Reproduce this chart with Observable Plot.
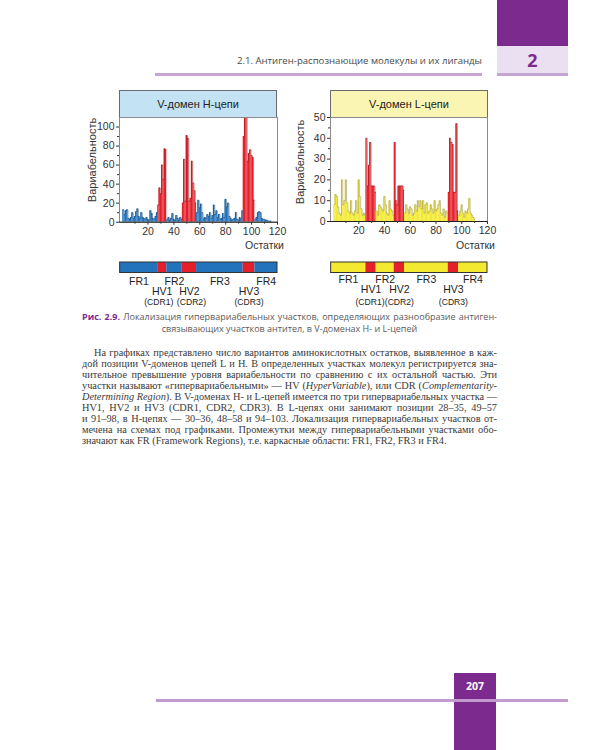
<!DOCTYPE html>
<html><head><meta charset="utf-8">
<script src="https://cdn.jsdelivr.net/npm/d3@7"></script>
<script src="https://cdn.jsdelivr.net/npm/@observablehq/plot@0.6"></script>
<style>
body{margin:0;background:#fff;}
#page{position:relative;width:600px;height:750px;overflow:hidden;font-family:"Liberation Sans",Arial,sans-serif;color:#333;}
.abs{position:absolute;}
.hdrbox{position:absolute;box-sizing:border-box;border:1px solid #6a6a6a;border-bottom:none;font-size:11px;color:#222;display:flex;align-items:center;justify-content:center;}
.ylab{position:absolute;font-size:11px;color:#333;transform:translate(-50%,-50%) rotate(-90deg);white-space:nowrap;}
.xlab{position:absolute;font-size:10.5px;color:#333;white-space:nowrap;transform:translate(-100%,-50%);}
.body{position:absolute;left:82px;width:415px;font-family:"Liberation Serif","Times New Roman",serif;font-size:10.3px;color:#3a3a3a;line-height:11px;}
.body div{text-align:justify;text-align-last:justify;white-space:nowrap;height:11px;}
.body div.last{text-align-last:left;}
.cap{position:absolute;left:82px;width:415px;font-family:"Open Sans",sans-serif;font-size:9px;color:#5a5a5a;line-height:11.5px;}
svg{overflow:visible;}
</style></head><body><div id="page"></div>
<script>
// ---- data ----
const hValues = [13,8,12,13,4,3,5,10,4,6,11,14,6,4,10,5,4,3,5,3,2,12,9,4,3,6,10,
  18,36,30,60,45,77,76,
  3,5,2,4,9,3,2,7,4,2,5,3,
  20,66,22,91,88,22,25,64,41,33,20,
  10,23,15,19,10,3,5,4,8,6,10,4,7,18,8,12,5,8,3,4,9,5,24,16,20,6,4,2,3,4,10,3,2,5,3,12,
  90,110,110,64,72,76,70,68,23,
  3,5,10,11,10,4,3,3,2,2,1,1,1];
const lValues = [8,13,12,7,4,3,20,8,10,20,9,5,4,10,4,3,5,10,4,20,12,6,3,4,3,
  40,17,27,38,17,17,17,14,
  5,3,8,7,6,5,12,8,4,3,10,6,5,3,
  38,10,8,17,17,17,17,15,
  4,8,6,4,7,6,3,4,8,5,10,7,10,6,10,4,8,9,4,5,8,6,4,10,5,6,8,10,4,3,6,2,5,4,
  14,40,38,37,14,14,47,5,
  3,5,8,4,2,5,4,6,11,4,3,2,1];
const hRegions = [
  {name:"FR1", start:-1, end:27},
  {name:"HV1", start:28, end:34, cdr:"(CDR1)"},
  {name:"FR2", start:35, end:46},
  {name:"HV2", start:47, end:57, cdr:"(CDR2)"},
  {name:"FR3", start:58, end:93},
  {name:"HV3", start:94, end:102, cdr:"(CDR3)"},
  {name:"FR4", start:103, end:119.5}
];
const lRegions = [
  {name:"FR1", start:-1, end:25},
  {name:"HV1", start:26, end:33, cdr:"(CDR1)"},
  {name:"FR2", start:34, end:47},
  {name:"HV2", start:48, end:55, cdr:"(CDR2)"},
  {name:"FR3", start:56, end:89},
  {name:"HV3", start:90, end:97, cdr:"(CDR3)"},
  {name:"FR4", start:98, end:119.5}
];
const xTicks = [20,40,60,80,100,120];
const xMinor = [10,30,50,70,90,110];
const yTicksH = [0,20,40,60,80,100];
const yMinorH = [10,30,50,70,90];
const yTicksL = [0,10,20,30,40,50];
const yMinorL = [5,15,25,35,45];
const titles = ["V-домен H-цепи","V-домен L-цепи"];
const yLabel = "Вариабельность";
const xLabel = "Остатки";

const RED = "#e4202a", RED_LINE = "#a61c22";
const BLUE = "#2273bb", BLUE_LINE = "#1d4f82";
const YEL = "#f3e930", YEL_LINE = "#a39c55";

const page = document.getElementById("page");
function el(tag, cls, style, html){const e=document.createElement(tag); if(cls) e.className=cls; Object.assign(e.style, style||{}); if(html!=null) e.innerHTML=html; page.appendChild(e); return e;}

function chart(values, regions, o){
  const data = values.map((v,i)=>{const r=i+1; const g=regions.find(g=>r>=g.start&&r<=g.end); return {r, v:Math.min(v,o.ymax), seg:g.name, hv:g.name.startsWith("HV")};});
  return Plot.plot({
    width:o.width, height:128, marginLeft:o.ml, marginRight:8, marginTop:5, marginBottom:o.mb,
    style:{background:"transparent", color:"#333", fontFamily:"Liberation Sans, Arial, sans-serif", fontSize:"10px"},
    x:{domain:[-2,120]},
    y:{domain:[0,o.ymax]},
    marks:[
      Plot.rect(data,{x1:d=>d.r-0.5, x2:d=>d.r+0.5, y1:0, y2:"v", fill:d=>d.hv?RED:o.fr}),
      Plot.line(data,{x:"r", y:"v", z:"seg", stroke:d=>d.hv?RED_LINE:o.frLine, strokeWidth:0.6, curve:"step"}),
      Plot.frame({stroke:"#8a8a8a", strokeWidth:1}),
      Plot.ruleY([0],{stroke:"#222", strokeWidth:1}),
      Plot.axisY({ticks:o.yTicks, tickSize:3, tickPadding:2, label:null, fontSize:10.5}),
      Plot.axisY({ticks:o.yMinor, tickSize:2, tickFormat:()=>"", label:null}),
      Plot.axisX({ticks:xTicks, tickSize:3, tickPadding:2, label:null, fontSize:10.5}),
      Plot.axisX({ticks:xMinor, tickSize:2, tickFormat:()=>"", label:null})
    ]
  });
}

function segBar(regions, o){
  const fr = regions.filter(d=>d.name.startsWith("FR"));
  const hv = regions.filter(d=>d.name.startsWith("HV"));
  const mid = d=>(d.start+d.end)/2;
  return Plot.plot({
    width:o.width, height:52, marginLeft:o.ml, marginRight:8, marginTop:7, marginBottom:34.5,
    style:{background:"transparent", color:"#222", fontFamily:"Liberation Sans, Arial, sans-serif", fontSize:"10.5px"},
    x:{domain:[-2,120], axis:null},
    y:{domain:[0,1], axis:null},
    marks:[
      Plot.rect(regions,{x1:d=>d.start-0.5, x2:d=>d.end+0.5, y1:0, y2:1, fill:d=>d.name.startsWith("HV")?RED:o.fr}),
      Plot.rect([regions],{x1:rs=>rs[0].start-0.5, x2:rs=>rs[rs.length-1].end+0.5, y1:0, y2:1, fill:"none", stroke:"#333", strokeWidth:1}),
      Plot.text(fr,{x:mid, y:0, dy:o.frDy, text:"name", fontSize:10.5}),
      Plot.text(hv,{x:mid, y:0, dy:o.hvDy, text:"name", fontSize:10.5}),
      Plot.text(hv.slice(0,1),{x:mid, y:0, dy:29.5, dx:o.cdrDx[0], text:"cdr", fontSize:8.6}),
      Plot.text(hv.slice(1,2),{x:mid, y:0, dy:29.5, dx:o.cdrDx[1], text:"cdr", fontSize:8.6}),
      Plot.text(hv.slice(2),{x:mid, y:0, dy:29.5, dx:o.cdrDx[2], text:"cdr", fontSize:8.6})
    ]
  });
}

// page header
el("div","abs",{left:"497px",top:"0px",width:"71px",height:"46px",background:"#7d2a8f"});
el("div","abs",{left:"497px",top:"46px",width:"71px",height:"27px",background:"#ebe0f1",borderBottom:"3px solid #c7a5d3",color:"#7d2a8f",fontFamily:"'Open Sans',sans-serif",fontWeight:"bold",fontSize:"18px",display:"flex",alignItems:"center",justifyContent:"center"},"2");
el("div","abs",{left:"155px",top:"73px",width:"327px",height:"3px",background:"#c7a5d3"});
el("div","abs",{right:"118px",top:"54px",fontFamily:"'Open Sans',sans-serif",fontSize:"9.6px",color:"#4a4a4a",whiteSpace:"nowrap"},"2.1. Антиген-распознающие молекулы и их лиганды");

// chart headers
el("div","hdrbox",{left:"119px",top:"90px",width:"158px",height:"27px",background:"#c3e2f3"},titles[0]);
el("div","hdrbox",{left:"330px",top:"90px",width:"158px",height:"27px",background:"#fbf5b3"},titles[1]);

// charts
const cH = chart(hValues,hRegions,{width:205, ml:39, mb:18.3, ymax:110, yTicks:yTicksH, yMinor:yMinorH, fr:BLUE, frLine:BLUE_LINE});
cH.style.position="absolute"; cH.style.left="80px"; cH.style.top="112px"; page.appendChild(cH);
const cL = chart(lValues,lRegions,{width:200, ml:35, mb:19, ymax:50, yTicks:yTicksL, yMinor:yMinorL, fr:YEL, frLine:YEL_LINE});
cL.style.position="absolute"; cL.style.left="295px"; cL.style.top="112px"; page.appendChild(cL);

el("div","ylab",{left:"92px",top:"160px"},yLabel);
el("div","ylab",{left:"300px",top:"162px"},yLabel);
el("div","xlab",{left:"284px",top:"245px"},xLabel);
el("div","xlab",{left:"495px",top:"245px"},xLabel);

// segment bars
const sH = segBar(hRegions,{width:205, ml:39, fr:BLUE, frDy:8.3, hvDy:19, cdrDx:[-3.5,2,0]});
sH.style.position="absolute"; sH.style.left="80px"; sH.style.top="255px"; page.appendChild(sH);
const sL = segBar(lRegions,{width:200, ml:35, fr:YEL, frDy:6.5, hvDy:16.5, cdrDx:[-1,0,0]});
sL.style.position="absolute"; sL.style.left="295px"; sL.style.top="255px"; page.appendChild(sL);

// caption
el("div","cap",{top:"311px",textAlign:"center"},
 '<div style="text-align:justify;text-align-last:justify;white-space:nowrap"><b style="color:#7d2a8f">Рис. 2.9.</b> Локализация гипервариабельных участков, определяющих разнообразие антиген-</div><div>связывающих участков антител, в V-доменах H- и L-цепей</div>');

// body text
const lines = [
 "На графиках представлено число вариантов аминокислотных остатков, выявленное в каж-",
 "дой позиции V-доменов цепей L и H. В определенных участках молекул регистрируется зна-",
 "чительное превышение уровня вариабельности по сравнению с их остальной частью. Эти",
 "участки называют «гипервариабельными» — HV (<i>HyperVariable</i>), или CDR (<i>Complementarity-</i>",
 "<i>Determining Region</i>). В V-доменах H- и L-цепей имеется по три гипервариабельных участка —",
 "HV1, HV2 и HV3 (CDR1, CDR2, CDR3). В L-цепях они занимают позиции 28–35, 49–57",
 "и 91–98, в H-цепях — 30–36, 48–58 и 94–103. Локализация гипервариабельных участков от-",
 "мечена на схемах под графиками. Промежутки между гипервариабельными участками обо-",
 "значают как FR (Framework Regions), т.е. каркасные области: FR1, FR2, FR3 и FR4."
];
const body = el("div","body",{top:"347px"});
lines.forEach((t,i)=>{const d=document.createElement("div"); d.innerHTML=t; if(i===0) d.style.paddingLeft="12px"; if(i===lines.length-1) d.className="last"; body.appendChild(d);});

// footer
el("div","abs",{left:"454px",top:"673px",width:"42px",height:"77px",background:"#7d2a8f"});
el("div","abs",{left:"454px",top:"679px",width:"42px",textAlign:"center",color:"#fff",fontFamily:"'Open Sans',sans-serif",fontWeight:"bold",fontSize:"10.5px"},"207");
el("div","abs",{left:"156px",top:"699px",width:"412px",height:"3px",background:"#c39ad0"});
</script></body></html>
